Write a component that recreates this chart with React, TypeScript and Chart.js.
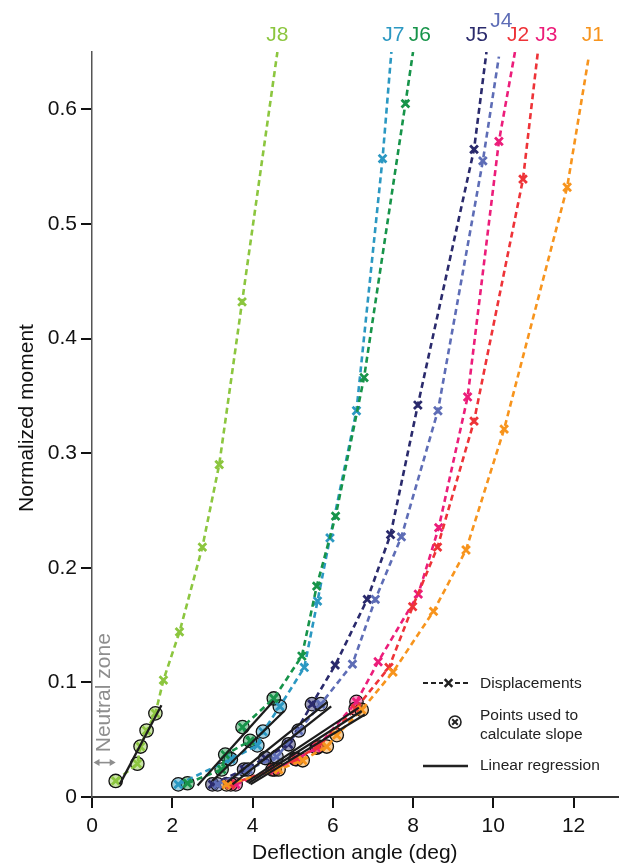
import React, { useEffect, useRef } from "react";
import { Chart, registerables } from "chart.js";

Chart.register(...registerables);

// ---------- axes ----------
const X_MIN = 0;
const X_MAX = 13.1;
const Y_MIN = 0;
const Y_MAX = 0.65;
const X_TICKS = [0, 2, 4, 6, 8, 10, 12];
const X_TICK_LABELS = ["0", "2", "4", "6", "8", "10", "12"];
const Y_TICKS = [0, 0.1, 0.2, 0.3, 0.4, 0.5, 0.6];
const Y_TICK_LABELS = ["0", "0.1", "0.2", "0.3", "0.4", "0.5", "0.6"];
const X_TITLE = "Deflection angle (deg)";
const Y_TITLE = "Normalized moment";

// ---------- series ----------
const JOINTS = ["J1", "J2", "J3", "J4", "J5", "J6", "J7", "J8"];
const COLORS = ["#F7941D", "#EE3338", "#EC1D7A", "#5E6DB6", "#2A2A6C", "#17944A", "#2B98C2", "#8CC63F"];

// displacement points (angle deg, normalized moment); last entry = where the curve leaves the top of the plot
const J1_ANGLE = [3.35, 4.65, 5.25, 5.85, 6.1, 6.72, 7.5, 8.51, 9.32, 10.27, 11.84, 12.38];
const J1_MOMENT = [0.011, 0.024, 0.032, 0.044, 0.054, 0.076, 0.109, 0.162, 0.2155, 0.321, 0.532, 0.646];
const J2_ANGLE = [3.46, 4.5, 5.07, 5.64, 6.57, 7.4, 7.99, 8.61, 9.52, 10.74, 11.11];
const J2_MOMENT = [0.011, 0.024, 0.033, 0.044, 0.077, 0.113, 0.166, 0.218, 0.328, 0.539, 0.65];
const J3_ANGLE = [3.58, 4.55, 5.1, 5.6, 6.59, 7.13, 8.13, 8.64, 9.36, 10.14, 10.54];
const J3_MOMENT = [0.011, 0.024, 0.033, 0.043, 0.083, 0.118, 0.177, 0.235, 0.349, 0.572, 0.65];
const J4_ANGLE = [3.13, 3.89, 4.6, 5.15, 5.7, 6.49, 7.06, 7.71, 8.62, 9.74, 10.14];
const J4_MOMENT = [0.011, 0.024, 0.035, 0.058, 0.081, 0.116, 0.1725, 0.227, 0.337, 0.555, 0.646];
const J5_ANGLE = [3.0, 3.79, 4.32, 4.9, 5.48, 6.06, 6.86, 7.44, 8.12, 9.52, 9.83];
const J5_MOMENT = [0.011, 0.024, 0.034, 0.046, 0.081, 0.115, 0.1725, 0.229, 0.342, 0.565, 0.65];
const J6_ANGLE = [2.38, 3.23, 3.32, 3.94, 3.75, 4.53, 5.23, 5.6, 6.07, 6.78, 7.81, 8.0];
const J6_MOMENT = [0.012, 0.024, 0.037, 0.049, 0.061, 0.086, 0.123, 0.184, 0.245, 0.366, 0.605, 0.65];
const J7_ANGLE = [2.15, 3.46, 4.12, 4.26, 4.68, 5.29, 5.62, 5.93, 6.59, 7.24, 7.46];
const J7_MOMENT = [0.011, 0.033, 0.045, 0.057, 0.079, 0.113, 0.171, 0.226, 0.337, 0.557, 0.65];
const J8_ANGLE = [0.59, 1.13, 1.21, 1.36, 1.58, 1.78, 2.18, 2.75, 3.17, 3.74, 4.62];
const J8_MOMENT = [0.014, 0.029, 0.044, 0.058, 0.073, 0.102, 0.144, 0.218, 0.29, 0.432, 0.65];

// number of leading points used to calculate slope (circled)
const FIT_COUNT = [6, 5, 5, 5, 5, 6, 5, 5];

// linear regression end points
const J1_REG_ANGLE = [3.95, 6.8];
const J1_REG_MOMENT = [0.011, 0.072];
const J2_REG_ANGLE = [3.9, 6.72];
const J2_REG_MOMENT = [0.012, 0.075];
const J3_REG_ANGLE = [3.85, 6.65];
const J3_REG_MOMENT = [0.013, 0.078];
const J4_REG_ANGLE = [3.5, 5.96];
const J4_REG_MOMENT = [0.011, 0.079];
const J5_REG_ANGLE = [3.37, 5.87];
const J5_REG_MOMENT = [0.013, 0.083];
const J6_REG_ANGLE = [2.63, 4.53];
const J6_REG_MOMENT = [0.01, 0.084];
const J7_REG_ANGLE = [3.0, 4.79];
const J7_REG_MOMENT = [0.014, 0.075];
const J8_REG_ANGLE = [0.69, 1.73];
const J8_REG_MOMENT = [0.011, 0.08];

// series name labels (data coords)
const LABEL_ANGLE = [12.48, 10.62, 11.32, 10.2, 9.59, 8.17, 7.51, 4.62];
const LABEL_MOMENT = [0.665, 0.665, 0.665, 0.677, 0.665, 0.665, 0.665, 0.665];

const NEUTRAL_TEXT = "Neutral zone";
const LEGEND_TEXTS = ["Displacements", "Points used to", "calculate slope", "Linear regression"];

const ANGLES = [J1_ANGLE, J2_ANGLE, J3_ANGLE, J4_ANGLE, J5_ANGLE, J6_ANGLE, J7_ANGLE, J8_ANGLE];
const MOMENTS = [J1_MOMENT, J2_MOMENT, J3_MOMENT, J4_MOMENT, J5_MOMENT, J6_MOMENT, J7_MOMENT, J8_MOMENT];
const REG_ANGLES = [J1_REG_ANGLE, J2_REG_ANGLE, J3_REG_ANGLE, J4_REG_ANGLE, J5_REG_ANGLE, J6_REG_ANGLE, J7_REG_ANGLE, J8_REG_ANGLE];
const REG_MOMENTS = [J1_REG_MOMENT, J2_REG_MOMENT, J3_REG_MOMENT, J4_REG_MOMENT, J5_REG_MOMENT, J6_REG_MOMENT, J7_REG_MOMENT, J8_REG_MOMENT];

const FONT = '"Liberation Sans", Arial, Helvetica, sans-serif';
const f = (s: number) => `${s}px ${FONT}`;

function alpha(hex: string, a: number) {
  const n = parseInt(hex.slice(1), 16);
  return `rgba(${(n >> 16) & 255},${(n >> 8) & 255},${n & 255},${a})`;
}

function drawCross(ctx: CanvasRenderingContext2D, cx: number, cy: number, r: number) {
  ctx.beginPath();
  ctx.moveTo(cx - r, cy - r);
  ctx.lineTo(cx + r, cy + r);
  ctx.moveTo(cx + r, cy - r);
  ctx.lineTo(cx - r, cy + r);
  ctx.stroke();
}

const overlay = {
  id: "overlay",
  afterDraw(chart: any) {
    const { ctx } = chart;
    const xs = chart.scales.x;
    const ys = chart.scales.y;
    const ca = chart.chartArea;
    ctx.save();

    // series labels
    ctx.font = f(21);
    ctx.textAlign = "center";
    ctx.textBaseline = "middle";
    JOINTS.forEach((name, i) => {
      ctx.fillStyle = COLORS[i];
      ctx.fillText(name, xs.getPixelForValue(LABEL_ANGLE[i]), ys.getPixelForValue(LABEL_MOMENT[i]));
    });

    // axis titles
    ctx.fillStyle = "#111";
    ctx.font = f(21);
    ctx.fillText(X_TITLE, (ca.left + ca.right) / 2, 853);
    ctx.save();
    ctx.translate(27, 418);
    ctx.rotate(-Math.PI / 2);
    ctx.fillText(Y_TITLE, 0, 0);
    ctx.restore();

    // neutral zone
    const gray = "#8e8e8e";
    ctx.save();
    ctx.fillStyle = gray;
    ctx.font = f(21);
    ctx.translate(xs.getPixelForValue(0.3), ys.getPixelForValue(0.091));
    ctx.rotate(-Math.PI / 2);
    ctx.fillText(NEUTRAL_TEXT, 0, 0);
    ctx.restore();
    const ay = ys.getPixelForValue(0.03);
    const ax0 = xs.getPixelForValue(0) + 1.5;
    const ax1 = xs.getPixelForValue(J8_ANGLE[0]);
    ctx.strokeStyle = gray;
    ctx.fillStyle = gray;
    ctx.lineWidth = 1.6;
    ctx.beginPath();
    ctx.moveTo(ax0 + 4, ay);
    ctx.lineTo(ax1 - 4, ay);
    ctx.stroke();
    ctx.beginPath();
    ctx.moveTo(ax0, ay);
    ctx.lineTo(ax0 + 6, ay - 3.5);
    ctx.lineTo(ax0 + 6, ay + 3.5);
    ctx.closePath();
    ctx.fill();
    ctx.beginPath();
    ctx.moveTo(ax1, ay);
    ctx.lineTo(ax1 - 6, ay - 3.5);
    ctx.lineTo(ax1 - 6, ay + 3.5);
    ctx.closePath();
    ctx.fill();

    // legend
    const lx0 = 423;
    const lx1 = 470;
    const tx = 480;
    ctx.strokeStyle = "#222";
    ctx.fillStyle = "#222";
    ctx.lineWidth = 2.2;
    ctx.setLineDash([5, 3]);
    ctx.beginPath();
    ctx.moveTo(lx0, 683);
    ctx.lineTo(lx1, 683);
    ctx.stroke();
    ctx.setLineDash([]);
    ctx.lineWidth = 2.6;
    ctx.fillStyle = "#fff";
    ctx.fillRect(443, 678, 11, 11);
    drawCross(ctx, 448.5, 683, 3.8);
    // circle-x
    ctx.lineWidth = 1.6;
    ctx.beginPath();
    ctx.arc(455, 722, 6, 0, Math.PI * 2);
    ctx.stroke();
    ctx.lineWidth = 2;
    drawCross(ctx, 455, 722, 2.8);
    // solid line
    ctx.lineWidth = 2.4;
    ctx.beginPath();
    ctx.moveTo(lx0, 766);
    ctx.lineTo(468, 766);
    ctx.stroke();
    ctx.fillStyle = "#222";
    ctx.font = f(15.5);
    ctx.textAlign = "left";
    ctx.textBaseline = "middle";
    ctx.fillText(LEGEND_TEXTS[0], tx, 684);
    ctx.fillText(LEGEND_TEXTS[1], tx, 716);
    ctx.fillText(LEGEND_TEXTS[2], tx, 735);
    ctx.fillText(LEGEND_TEXTS[3], tx, 766);

    ctx.restore();
  },
};

export default function App() {
  const ref = useRef<HTMLCanvasElement | null>(null);

  useEffect(() => {
    if (!ref.current) return;
    const datasets: any[] = [];
    JOINTS.forEach((name, i) => {
      const color = COLORS[i];
      const pts = ANGLES[i].map((x, k) => ({ x, y: MOMENTS[i][k] }));
      const last = pts.length - 1;
      datasets.push({
        label: name + " circles",
        data: pts.slice(0, FIT_COUNT[i]),
        showLine: false,
        pointStyle: "circle",
        pointRadius: 6.7,
        pointBackgroundColor: alpha(color, 0.45),
        pointBorderColor: "#111",
        pointBorderWidth: 1.3,
        order: 3,
      });
      datasets.push({
        label: name,
        data: pts,
        showLine: true,
        borderColor: color,
        borderWidth: 2.6,
        borderDash: [6, 4],
        tension: 0,
        pointStyle: "crossRot",
        pointRadius: (c: any) => (c.dataIndex === last ? 0 : 5.5),
        pointBorderColor: color,
        pointBackgroundColor: color,
        pointBorderWidth: 2.8,
        order: 2,
      });
      datasets.push({
        label: name + " fit",
        data: REG_ANGLES[i].map((x, k) => ({ x, y: REG_MOMENTS[i][k] })),
        showLine: true,
        borderColor: "#1c1c1c",
        borderWidth: 2.3,
        pointRadius: 0,
        tension: 0,
        order: 0,
      });
    });

    const chart = new Chart(ref.current, {
      type: "scatter",
      data: { datasets },
      options: {
        responsive: false,
        animation: false,
        events: [],
        layout: { padding: { left: 0, top: 52, right: 4, bottom: 0 } },
        plugins: { legend: { display: false }, tooltip: { enabled: false }, title: { display: false } },
        scales: {
          x: {
            type: "linear",
            min: X_MIN,
            max: X_MAX,
            afterBuildTicks: (s: any) => {
              s.ticks = X_TICKS.map((v) => ({ value: v }));
            },
            afterFit: (s: any) => {
              s.height = 66;
            },
            ticks: {
              callback: (v: any) => X_TICK_LABELS[X_TICKS.indexOf(Number(v))] ?? "",
              font: { family: FONT, size: 21 },
              color: "#111",
              padding: 6,
              maxRotation: 0,
              autoSkip: false,
            },
            grid: { drawOnChartArea: false, drawTicks: true, tickLength: 11, color: "#111", lineWidth: 2 },
            border: { display: true, color: "#333", width: 2 },
          },
          y: {
            type: "linear",
            min: Y_MIN,
            max: Y_MAX,
            afterBuildTicks: (s: any) => {
              s.ticks = Y_TICKS.map((v) => ({ value: v }));
            },
            afterFit: (s: any) => {
              s.width = 92;
            },
            ticks: {
              callback: (v: any) => {
                const idx = Y_TICKS.findIndex((t) => Math.abs(t - Number(v)) < 1e-9);
                return idx >= 0 ? Y_TICK_LABELS[idx] : "";
              },
              font: { family: FONT, size: 21 },
              color: "#111",
              padding: 4,
              autoSkip: false,
            },
            grid: { drawOnChartArea: false, drawTicks: true, tickLength: 11, color: "#111", lineWidth: 2 },
            border: { display: true, color: "#555", width: 1.5 },
          },
        },
      },
      plugins: [overlay],
    } as any);
    return () => chart.destroy();
  }, []);

  return (
    <div style={{ position: "absolute", left: 0, top: 0, width: 626, height: 863, background: "#fff" }}>
      <canvas ref={ref} width={626} height={863} style={{ display: "block" }} />
    </div>
  );
}
